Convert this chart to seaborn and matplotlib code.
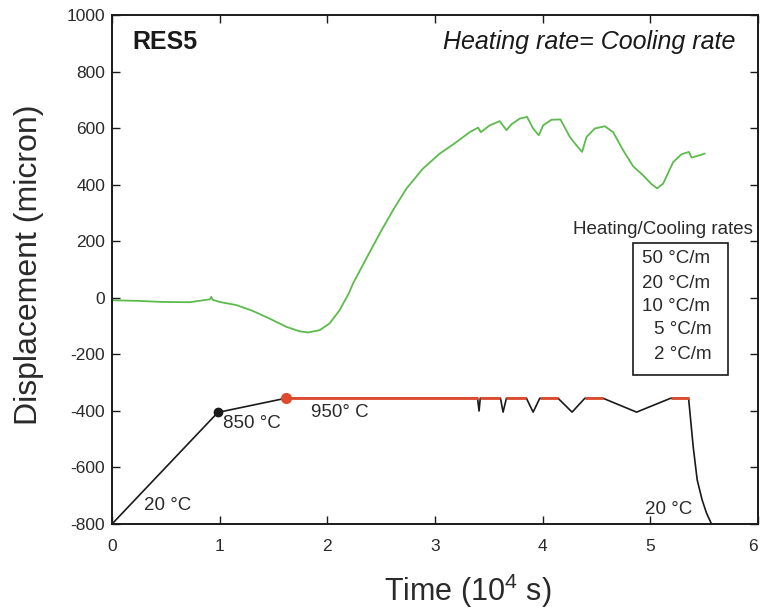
import numpy as np
import pandas as pd
import matplotlib
matplotlib.use("Agg")
import matplotlib.pyplot as plt
import seaborn as sns
from matplotlib.patches import Rectangle

# ---- data ----
time_disp = [0.0, 0.225, 0.472, 0.720, 0.813, 0.906, 0.922, 0.934, 0.999, 1.154,
             1.309, 1.464, 1.619, 1.743, 1.820, 1.928, 2.021, 2.114, 2.201, 2.238,
             2.362, 2.486, 2.610, 2.734, 2.888, 3.044, 3.199, 3.322, 3.385, 3.400,
             3.425, 3.508, 3.601, 3.664, 3.710, 3.787, 3.855, 3.911, 3.964, 4.004,
             4.082, 4.165, 4.252, 4.314, 4.366, 4.407, 4.484, 4.577, 4.654, 4.747,
             4.840, 4.933, 5.011, 5.063, 5.119, 5.212, 5.290, 5.358, 5.383, 5.429,
             5.506]
displacement = [-8, -10, -14, -15, -10, -5, 4, -6, -14, -25,
                -46, -73, -102, -118, -122, -114, -90, -43, 18, 51,
                140, 228, 311, 387, 458, 511, 552, 587, 600, 603,
                587, 611, 626, 594, 615, 635, 641, 600, 576, 611,
                631, 632, 570, 540, 517, 570, 600, 608, 587, 523,
                466, 434, 403, 388, 405, 481, 509, 517, 497, 502,
                511]

# temperature program, drawn in displacement-axis units
time_temp = [0.0, 0.983, 1.612, 3.395, 3.409, 3.420, 3.608, 3.632, 3.663, 3.849,
             3.911, 3.973, 4.143, 4.273, 4.391, 4.561, 4.872, 5.188, 5.355, 5.398,
             5.435, 5.481, 5.522, 5.574]
temp_trace = [-800, -405, -355, -355, -400, -355, -355, -404, -355, -355,
              -404, -355, -355, -404, -355, -355, -404, -355, -355, -527,
              -644, -715, -762, -805]
plateau_level = -355

rate_labels = ["50 °C/m", "20 °C/m", "10 °C/m", "5 °C/m", "2 °C/m"]
xticks = [0, 1, 2, 3, 4, 5, 6]
yticks = [-800, -600, -400, -200, 0, 200, 400, 600, 800, 1000]

# ---- style ----
sns.set_theme(style="ticks")
plt.rcParams["font.family"] = ["Liberation Sans", "DejaVu Sans"]
plt.rcParams["mathtext.fontset"] = "custom"
plt.rcParams["mathtext.rm"] = "Liberation Sans"
plt.rcParams["mathtext.it"] = "Liberation Sans:italic"
plt.rcParams["axes.unicode_minus"] = False

green = "#5cbb4c"
red = "#de4a2c"
black = "#1a1a1a"
txt = "#2a2a2a"

fig = plt.figure(figsize=(7.6, 6.12), dpi=100)
ax = fig.add_axes([0.1474, 0.1438, 0.8500, 0.8309])

df_disp = pd.DataFrame({"t": time_disp, "d": displacement})
df_temp = pd.DataFrame({"t": time_temp, "d": temp_trace})

sns.lineplot(data=df_disp, x="t", y="d", ax=ax, color=green, lw=1.3,
             sort=False, estimator=None)
sns.lineplot(data=df_temp, x="t", y="d", ax=ax, color=black, lw=1.2,
             sort=False, estimator=None)

# red plateau segments (950 °C hold)
for i in range(len(time_temp) - 1):
    if temp_trace[i] == plateau_level and temp_trace[i + 1] == plateau_level:
        ax.plot([time_temp[i], time_temp[i + 1]], [temp_trace[i], temp_trace[i + 1]],
                color=red, lw=2.0, solid_capstyle="butt", zorder=4)

ax.plot(time_temp[1], temp_trace[1], "o", color=black, ms=6, zorder=5)
ax.plot(time_temp[2], temp_trace[2], "o", color=red, ms=7, zorder=5)

ax.set_xlim(0, 6)
ax.set_ylim(-800, 1000)
ax.set_xticks(xticks)
ax.set_yticks(yticks)
ax.tick_params(axis="both", direction="in", length=6, width=1.0, colors=black,
               labelsize=12.5, labelcolor=txt, top=True, right=True)
ax.tick_params(axis="x", pad=11)
ax.tick_params(axis="y", pad=5)
for s in ax.spines.values():
    s.set_linewidth(1.4)
    s.set_color(black)
# keep the last x tick label inside the figure
last = ax.xaxis.get_major_ticks()[-1].label1
last.set_horizontalalignment("right")

ax.set_xlabel("Time (10$^4$ s)", fontsize=22, color=txt)
ax.set_ylabel("Displacement (micron)", fontsize=23, color=txt)
ax.xaxis.set_label_coords(0.551, -0.093)
ax.yaxis.set_label_coords(-0.105, 0.51)

# annotations
ax.text(0.19, 905, "RES5", fontsize=18, fontweight="bold", va="center", ha="left", color=black)
ax.text(5.785, 905, "Heating rate= Cooling rate", fontsize=18, style="italic",
        va="center", ha="right", color=black)
ax.text(1.03, -443, "850 °C", fontsize=13.5, va="center", ha="left", color=txt)
ax.text(1.85, -406, "950° C", fontsize=13.5, va="center", ha="left", color=txt)
ax.text(0.295, -735, "20 °C", fontsize=13.5, va="center", ha="left", color=txt)
ax.text(4.95, -747, "20 °C", fontsize=13.5, va="center", ha="left", color=txt)

# rates legend box
ax.text(5.955, 243, "Heating/Cooling rates", fontsize=13.5, va="center", ha="right",
        color=txt)
ax.add_patch(Rectangle((4.835, -273), 5.725 - 4.835, 194 + 273, fill=False,
                       lw=1.2, edgecolor=black, zorder=3))
rate_y = [140, 51, -31, -110, -199]
for lab, yy in zip(rate_labels, rate_y):
    xx = 4.918 if len(lab) > 6 else 5.035
    ax.text(xx, yy, lab, fontsize=13.5, va="center", ha="left", color=txt)

fig.savefig("out.png", dpi=100)
